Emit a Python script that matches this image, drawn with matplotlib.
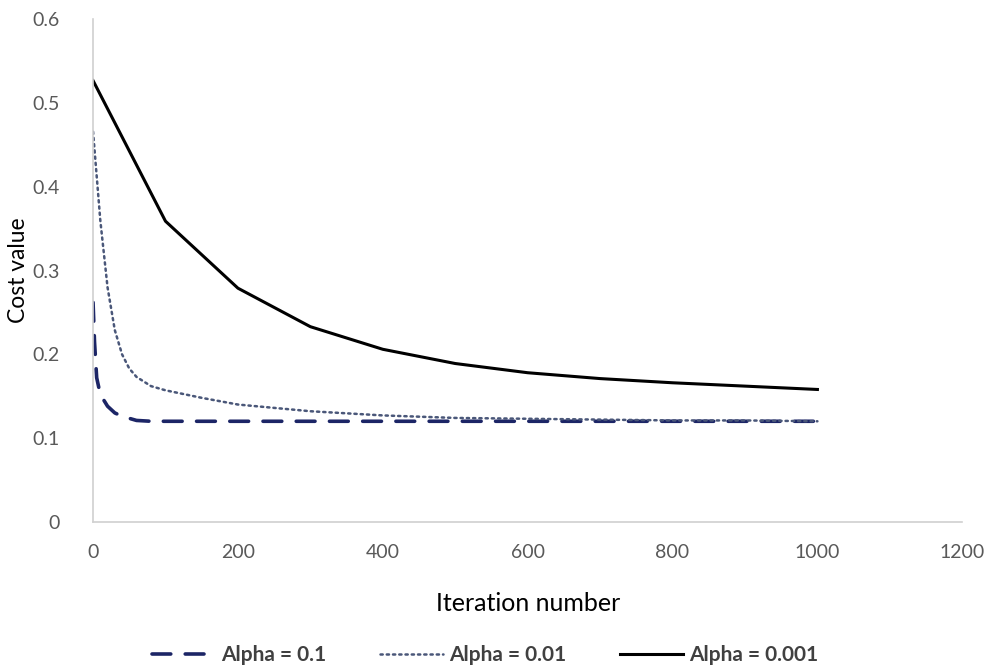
import matplotlib
matplotlib.use("Agg")
import matplotlib.pyplot as plt

plt.rcParams['font.family'] = ['Lato', 'DejaVu Sans']

# Alpha = 0.1 (dashed)
iter_a1 = [0, 2, 5, 10, 20, 30, 40, 60, 80, 100, 200, 300, 400, 500, 600, 700, 800, 900, 1000]
cost_a1 = [0.262, 0.215, 0.172, 0.152, 0.138, 0.130, 0.126, 0.121, 0.120, 0.120, 0.120, 0.120,
           0.120, 0.120, 0.120, 0.120, 0.120, 0.120, 0.120]

# Alpha = 0.01 (dotted)
iter_a01 = [0, 10, 20, 30, 40, 50, 60, 80, 100, 150, 200, 300, 400, 500, 600, 700, 800, 900, 1000]
cost_a01 = [0.466, 0.360, 0.280, 0.229, 0.200, 0.183, 0.173, 0.162, 0.157, 0.148, 0.140, 0.132,
            0.127, 0.124, 0.123, 0.122, 0.121, 0.121, 0.120]

# Alpha = 0.001 (solid)
iter_a001 = [0, 100, 200, 300, 400, 500, 600, 700, 800, 900, 1000]
cost_a001 = [0.527, 0.359, 0.279, 0.233, 0.206, 0.189, 0.178, 0.171, 0.166, 0.162, 0.158]

labels = ["Alpha = 0.1", "Alpha = 0.01", "Alpha = 0.001"]
x_ticks = [0, 200, 400, 600, 800, 1000, 1200]
y_ticks = [0, 0.1, 0.2, 0.3, 0.4, 0.5, 0.6]
y_tick_labels = ["0", "0.1", "0.2", "0.3", "0.4", "0.5", "0.6"]

fig = plt.figure(figsize=(9.9, 6.67), dpi=100)
ax = fig.add_axes([0.094, 0.2178, 0.878, 0.753])

ax.plot(iter_a1, cost_a1, color="#1c2566", lw=2.6, linestyle=(0, (5.2, 4.0)),
        solid_capstyle="round", dash_capstyle="round", label=labels[0])
ax.plot(iter_a01, cost_a01, color="#4a5779", lw=1.8, linestyle=(0, (0.9, 1.6)),
        dash_capstyle="round", label=labels[1])
ax.plot(iter_a001, cost_a001, color="#000000", lw=2.2, label=labels[2])

ax.set_xlim(0, 1200)
ax.set_ylim(0, 0.6)
ax.set_xticks(x_ticks)
ax.set_yticks(y_ticks)
ax.set_yticklabels(y_tick_labels)
ax.tick_params(length=0, labelsize=14, colors="#595959")
ax.tick_params(axis="y", pad=24)
ax.tick_params(axis="x", pad=16)
for s in ["top", "right"]:
    ax.spines[s].set_visible(False)
for s in ["left", "bottom"]:
    ax.spines[s].set_color("#d0d0d0")
    ax.spines[s].set_linewidth(1.2)

ax.set_xlabel("Iteration number", fontsize=18, color="#000000", labelpad=22)
ax.set_ylabel("Cost value", fontsize=16.5, color="#000000")
ax.yaxis.set_label_coords(-0.074, 0.5)

leg = fig.legend(loc="center", bbox_to_anchor=(0.49, 0.018), ncol=3, frameon=False,
                 fontsize=15, handlelength=3.0, columnspacing=2.6, handletextpad=0.3)
for t in leg.get_texts():
    t.set_color("#404040")
    t.set_fontweight("bold")

fig.savefig("out.png", dpi=100)
